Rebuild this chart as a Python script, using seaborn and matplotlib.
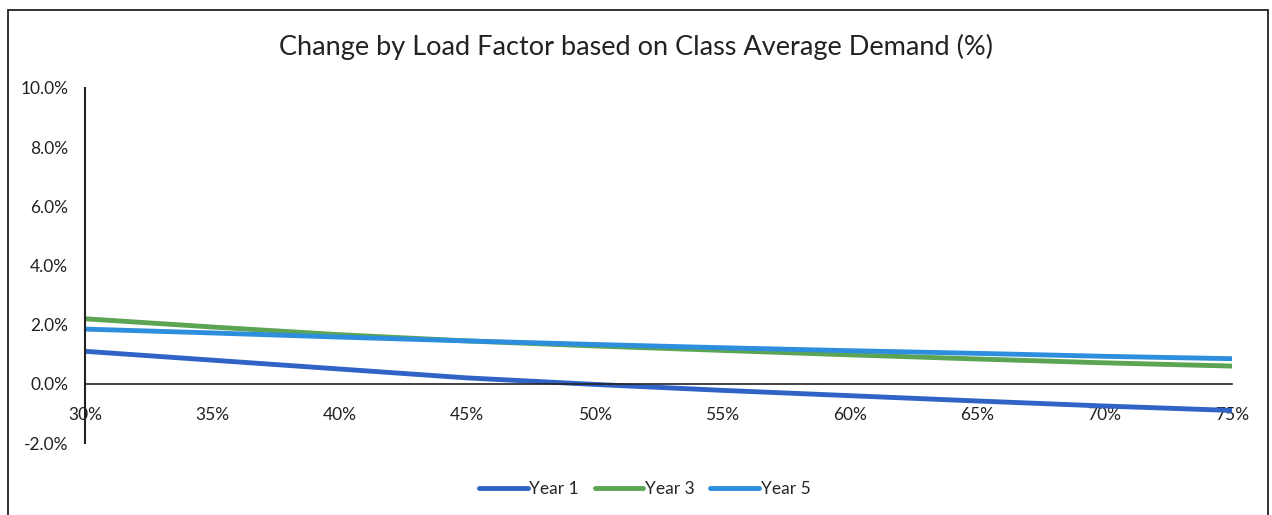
import pandas as pd
import numpy as np
import seaborn as sns
import matplotlib.pyplot as plt
from matplotlib.patches import Rectangle

# values (percent)
load_factor = [30, 35, 40, 45, 50, 55, 60, 65, 70, 75]
year1 = [1.10, 0.80, 0.50, 0.20, -0.02, -0.22, -0.40, -0.58, -0.75, -0.90]
year3 = [2.20, 1.92, 1.66, 1.45, 1.28, 1.13, 0.98, 0.84, 0.71, 0.60]
year5 = [1.85, 1.72, 1.58, 1.45, 1.33, 1.22, 1.12, 1.03, 0.93, 0.85]
series = ["Year 1", "Year 3", "Year 5"]
colors = ["#2f63c6", "#5ba453", "#2e8ede"]

df = pd.DataFrame({"Load Factor": load_factor, "Year 1": year1, "Year 3": year3, "Year 5": year5})
long_df = df.melt(id_vars="Load Factor", var_name="Series", value_name="Change")

sns.set_style("white")
plt.rcParams['font.family'] = ['Lato', 'DejaVu Sans']

fig = plt.figure(figsize=(12.72, 5.15), dpi=100)
# frame around the chart
fig.patches.append(Rectangle((8 / 1272, -0.01), 1260 / 1272, 1 - 10 / 515 + 0.01, transform=fig.transFigure,
                             fill=False, edgecolor="#222222", linewidth=1.3))

ax = fig.add_axes([85 / 1272, 72 / 515, (1232 - 85) / 1272, (443 - 88) / 515])
sns.lineplot(data=long_df, x="Load Factor", y="Change", hue="Series", hue_order=series,
             palette=colors, linewidth=3.5, ax=ax)

# x axis sits on the zero line (do this before styling ticks, it resets them)
for s in ["top", "right"]:
    ax.spines[s].set_visible(False)
ax.spines["left"].set_color("#222222")
ax.spines["left"].set_linewidth(1.5)
ax.spines["bottom"].set_position(("data", 0))
ax.spines["bottom"].set_color("#222222")
ax.spines["bottom"].set_linewidth(1.2)

ax.set_xlim(30, 75)
ax.set_ylim(-2, 10)
ax.set_yticks(np.arange(-2, 10.1, 2))
ax.set_yticklabels([f"{v:.1f}%" for v in np.arange(-2, 10.1, 2)])
ax.set_xticks(load_factor)
ax.set_xticklabels([f"{v}%" for v in load_factor])
ax.tick_params(axis="both", labelsize=12.5, labelcolor="#222222")
ax.tick_params(axis="y", length=0, pad=12)
ax.tick_params(axis="x", length=0, pad=17)
ax.set_xlabel("")
ax.set_ylabel("")

fig.text(0.5, 1 - 47 / 515, "Change by Load Factor based on Class Average Demand (%)",
         ha="center", va="center", fontsize=19.5, color="#222222")

ax.legend(loc="center", bbox_to_anchor=(0.488, -0.13), ncol=3, frameon=False, fontsize=12.5,
          handlelength=2.8, handletextpad=0.1, columnspacing=0.9)

fig.savefig("out.png", dpi=100)
